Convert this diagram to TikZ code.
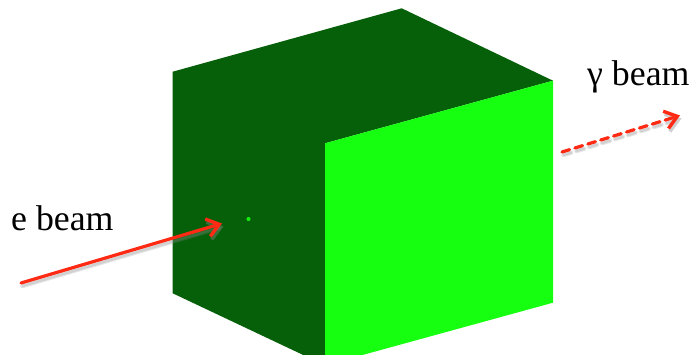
\documentclass[tikz,border=0pt]{standalone}
\usepackage{fontspec}
\setmainfont{Liberation Serif}
\usetikzlibrary{arrows.meta}
\definecolor{darkface}{HTML}{06600A}
\definecolor{lightface}{HTML}{16FF10}
\definecolor{beamred}{HTML}{FF2A14}
\definecolor{beamshadow}{HTML}{8A8A8A}
\tikzset{
  beamlabel/.style={anchor=base west,inner sep=0pt,font=\fontsize{35.8}{40}\selectfont,text=black},
  beam/.style={draw=beamred,line width=3.2pt,line cap=round,-{Straight Barb[length=12pt,width=18pt,line width=3.4pt]}},
  beamshade/.style={draw=beamshadow,opacity=.22,line cap=round,-{Straight Barb[length=12pt,width=18pt,line width=3.6pt]}},
  dashbeam/.style={dash pattern=on 8pt off 5.5pt},
}
\begin{document}
\begin{tikzpicture}[x=1pt,y=-1pt]
\useasboundingbox (0,0) rectangle (691,355);
\clip (0,0) rectangle (691,355);
\coordinate (top) at (401.7,8.3);
\coordinate (lt) at (172.7,71.7);
\coordinate (lb) at (172.7,293.3);
\coordinate (rt) at (553,80.7);
\coordinate (rb) at (553,302.7);
\coordinate (ft) at (325,143.3);
\coordinate (fb) at (325,365.3);
\fill[darkface] (top) -- (rt) -- (ft) -- (fb) -- (lb) -- (lt) -- cycle;
\fill[lightface] (ft) -- (rt) -- (rb) -- (fb) -- cycle;
\fill[lightface!92!black] (248.5,219) circle (2.1);
\coordinate (ea) at (21,283);
\coordinate (eb) at (222,223.5);
\coordinate (ga) at (562,152);
\coordinate (gb) at (680,115.5);
\draw[beamshade,line width=4.5pt] ([shift={(1.5,3)}]ea) -- ([shift={(1.5,3)}]eb);
\draw[beamshade,line width=2.5pt] ([shift={(1.5,3)}]ea) -- ([shift={(1.5,3)}]eb);
\draw[beamshade,dashbeam,line width=4.5pt] ([shift={(1.5,3)}]ga) -- ([shift={(1.5,3)}]gb);
\draw[beamshade,dashbeam,line width=2.5pt] ([shift={(1.5,3)}]ga) -- ([shift={(1.5,3)}]gb);
\draw[beam] (ea) -- (eb);
\draw[beam,dashbeam] (ga) -- (gb);
\node[beamlabel] (elabel) at (11,230.7) {e beam};
\node[beamlabel] (glabel) at (587,85.7) {γ beam};
\end{tikzpicture}
\end{document}
